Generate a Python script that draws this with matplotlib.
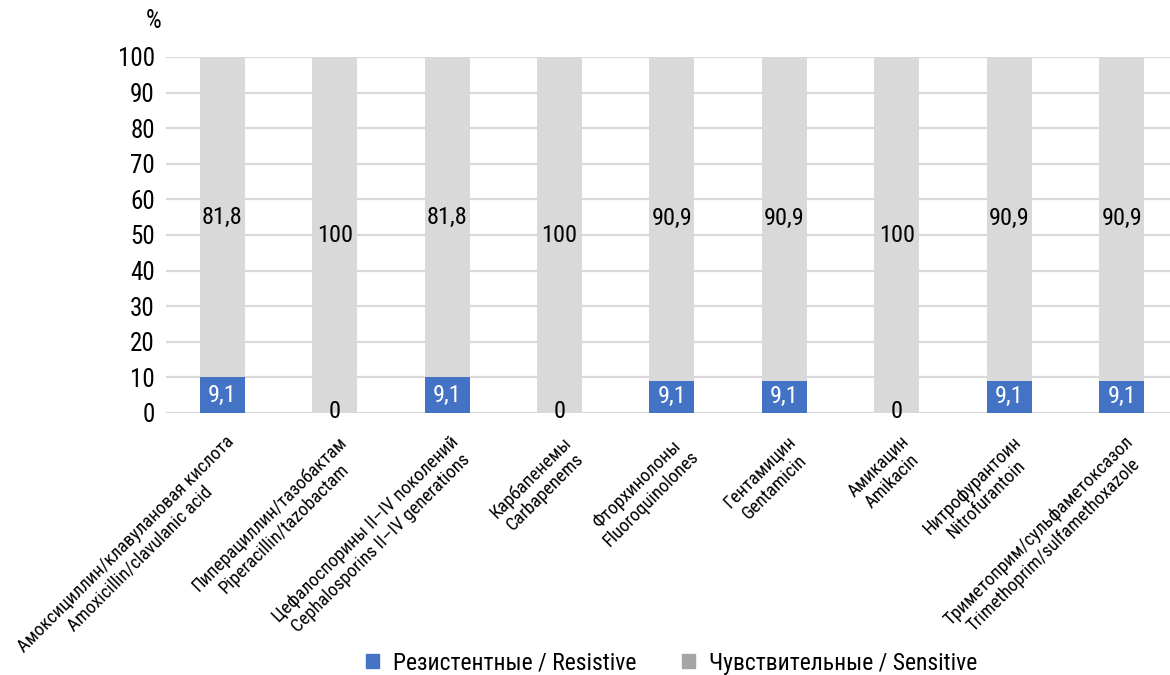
import matplotlib
matplotlib.use("Agg")
import matplotlib.pyplot as plt
from matplotlib.patches import Patch
from matplotlib.transforms import ScaledTranslation
import numpy as np

# -- data --------------------------------------------------------------------
categories = [
    "Амоксициллин/клавулановая кислота\nAmoxicillin/clavulanic acid",
    "Пиперациллин/тазобактам\nPiperacillin/tazobactam",
    "Цефалоспорины II–IV поколений\nCephalosporins II–IV generations",
    "Карбапенемы\nCarbapenems",
    "Фторхинолоны\nFluoroquinolones",
    "Гентамицин\nGentamicin",
    "Амикацин\nAmikacin",
    "Нитрофурантоин\nNitrofurantoin",
    "Триметоприм/сульфаметоксазол\nTrimethoprim/sulfamethoxazole",
]
resistive = [9.1, 0, 9.1, 0, 9.1, 9.1, 0, 9.1, 9.1]
sensitive = [81.8, 100, 81.8, 100, 90.9, 90.9, 100, 90.9, 90.9]
series_names = ["Резистентные / Resistive", "Чувствительные / Sensitive"]
y_ticks = list(range(0, 101, 10))

# -- style -------------------------------------------------------------------
plt.rcParams["font.family"] = ["Roboto Condensed", "DejaVu Sans"]
plt.rcParams["font.stretch"] = "condensed"

blue = "#4472C4"
gray = "#D9D9D9"
legend_gray = "#A5A5A5"


def fmt(v):
    return f"{v:g}".replace(".", ",")


# 100% stacked chart: each bar is the share of the category total
res = np.array(resistive)
sen = np.array(sensitive)
total = res + sen
res_pct = res / total * 100
sen_pct = sen / total * 100

fig = plt.figure(figsize=(11.7, 6.75), dpi=100)
ax = fig.add_axes((166 / 1170, 1 - 413 / 675, 1004 / 1170, 356 / 675))

x = np.arange(len(categories))
w = 0.4
ax.bar(x, res_pct, w, color=blue, zorder=2)
ax.bar(x, sen_pct, w, bottom=res_pct, color=gray, zorder=2)

for i in range(len(x)):
    if res[i] > 0:
        ax.text(x[i], res_pct[i] / 2, fmt(res[i]), ha="center", va="center",
                color="white", fontsize=17.5)
    else:
        ax.text(x[i], 0.3, fmt(res[i]), ha="center", va="center",
                color="black", fontsize=17.5)
    ax.text(x[i], res_pct[i] + sen_pct[i] / 2, fmt(sen[i]), ha="center",
            va="center", color="black", fontsize=17.5)

ax.set_xlim(-0.5, 8.43)
ax.set_ylim(0, 100)
ax.set_yticks(y_ticks)
ax.set_yticklabels([str(t) for t in y_ticks], fontsize=18)
ax.yaxis.grid(True, color=gray, linewidth=1.6, zorder=0)
ax.set_axisbelow(True)
ax.tick_params(axis="y", length=0, pad=8)
ax.tick_params(axis="x", length=0, pad=2)
for s in ax.spines.values():
    s.set_visible(False)

ax.set_xticks(x)
ax.set_xticklabels(categories, rotation=45, ha="right", va="top",
                   rotation_mode="anchor", fontsize=13.3, linespacing=1.15,
                   multialignment="center")
shift = ScaledTranslation(0.03, -0.17, fig.dpi_scale_trans)
for lbl in ax.get_xticklabels():
    lbl.set_transform(lbl.get_transform() + shift)

ax.text(-0.004, 110, "%", transform=ax.get_yaxis_transform(), ha="right",
        va="center", fontsize=18)

handles = [Patch(color=blue), Patch(color=legend_gray)]
fig.legend(handles, series_names, loc="lower center", ncol=2, frameon=False,
           bbox_to_anchor=(0.574, -0.031), fontsize=17, handlelength=0.55,
           handleheight=0.55, columnspacing=1.95, handletextpad=0.6)

fig.savefig("out.png", dpi=100)
